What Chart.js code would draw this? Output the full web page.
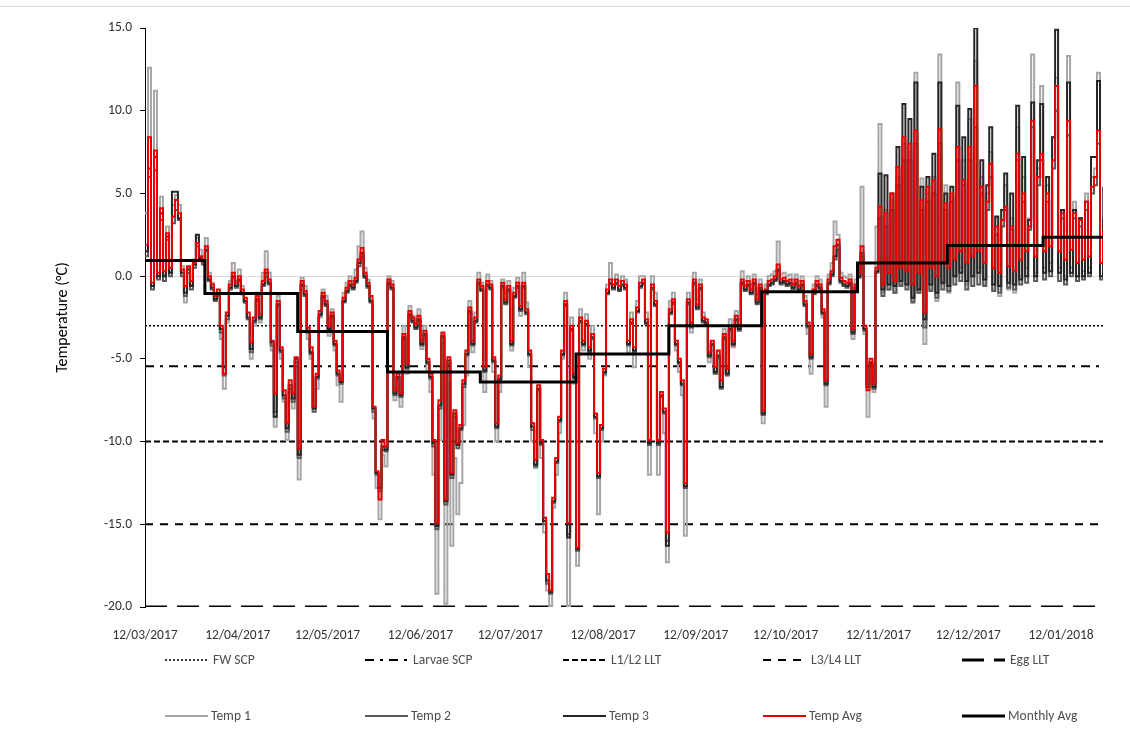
<!DOCTYPE html>
<html>
<head>
<meta charset="utf-8">
<title>Temperature</title>
<script src="https://cdn.jsdelivr.net/npm/chart.js@4.4.1/dist/chart.umd.min.js"></script>
<style>
  html, body { margin: 0; padding: 0; background: #fff; }
  #wrap { position: relative; width: 1130px; height: 740px; overflow: hidden; font-family: Carlito, Lato, sans-serif; }
  #topline { position: absolute; left: 0; top: 6px; width: 1130px; border-top: 1px solid #d9d9d9; }
  #chart { position: absolute; left: 0; top: 0; }
  .lg { position: absolute; height: 16px; font-size: 13.5px; color: #4d4d4d; white-space: nowrap; }
  .lg svg { position: absolute; left: 0; top: 2px; }
  .lg span { position: absolute; top: 0; line-height: 16px; }
</style>
</head>
<body>
<div id="wrap">
  <div id="topline"></div>
  <canvas id="chart" width="1130" height="740"></canvas>
  <div id="legend"></div>
</div>
<script>
// x axis = days since 12/03/2017
var dayMax = 320
var tickLabels = ['12/03/2017', '12/04/2017', '12/05/2017', '12/06/2017', '12/07/2017', '12/08/2017',
  '12/09/2017', '12/10/2017', '12/11/2017', '12/12/2017', '12/01/2018']

// reference thresholds (°C)
var refNames = ['FW SCP', 'Larvae SCP', 'L1/L2 LLT', 'L3/L4 LLT', 'Egg LLT']
var refLevels = [-3.0, -5.45, -10.0, -15.0, -20.0]

// monthly mean, starting day of each step
var monthStartDays = [0, 20, 51, 81, 112, 144, 175, 206, 238, 268, 300]
var monthlyAvg = [0.95, -1.05, -3.35, -5.8, -6.4, -4.7, -3.0, -0.95, 0.8, 1.85, 2.35]

// one reading per day, day 0 .. 320
var temp1 = [
  3.8, 12.6, -0.6, 11.2, 0.0, 4.8, 0.1, 3.0, 0.3, 4.3,
  4.9, 4.3, 0.6, -1.6, 0.5, -0.5, 1.0, 2.3, 1.6, 1.2,
  2.3, 0.2, -0.4, -1.3, -1.0, -3.8, -6.8, -2.8, -0.3, 0.8,
  -0.3, 0.4, -0.6, -1.6, -2.6, -5.0, -3.0, -1.0, -2.8, 0.2,
  1.5, 0.2, -4.5, -9.1, -1.2, -5.0, -7.6, -9.9, -7.0, -8.0,
  -5.5, -12.3, -0.1, -0.6, -3.8, -5.0, -7.9, -6.8, -2.5, -0.8,
  -1.2, -3.6, -2.0, -4.5, -6.6, -7.6, -1.0, -0.4, 0.0, -0.3,
  0.4, 1.8, 2.7, 0.5, -0.2, -1.5, -8.6, -12.8, -14.7, -10.8,
  -11.5, 0.0, -0.3, -7.5, -6.8, -7.9, -3.0, -5.9, -1.8, -2.4,
  -2.6, -2.0, -4.4, -3.0, -5.8, -7.0, -12.0, -19.2, -9.9, -4.0,
  -19.8, -6.5, -16.3, -11.0, -14.4, -12.5, -9.0, -6.0, -1.5, -4.6,
  -2.2, 0.2, -0.4, -7.0, 0.1, -0.3, -5.8, -10.0, -7.0, -0.2,
  -1.0, -0.3, -4.5, -0.7, -0.1, -2.4, 0.2, -1.6, -5.5, -10.0,
  -11.6, -7.0, -11.0, -15.5, -19.0, -20.0, -14.0, -12.0, -9.5, -5.0,
  -1.0, -20.0, -2.5, -6.5, -17.5, -2.0, -4.5, -2.3, -5.0, -3.0,
  -9.5, -14.4, -10.0, -6.0, -0.5, 0.8, -0.2, 0.1, -0.3, 0.0,
  -0.2, -4.6, -2.2, -5.5, -1.5, 0.0, 0.0, -2.2, -12.0, 0.0,
  -1.0, -12.0, -8.0, -9.5, -17.3, -1.5, -1.0, -4.5, -5.8, -7.2,
  -15.7, -1.0, -3.4, 0.2, -1.4, -0.2, -2.2, -3.0, -5.2, -4.5,
  -5.9, -5.0, -6.0, -3.2, -5.9, -2.6, -4.3, -2.1, -2.6, 0.3,
  -0.3, 0.0, -0.5, 0.1, -1.1, -0.2, -8.9, -0.5, 0.0, 0.1,
  0.3, 2.1, 0.1, 0.2, 0.0, 0.1, -0.2, 0.1, -0.3, 0.0,
  -1.2, -3.5, -5.9, -0.5, 0.0, -0.2, -2.5, -7.9, 0.1, 0.8,
  3.3, 2.5, 0.2, 0.0, -0.1, 0.1, -3.8, -0.2, 0.5, 5.4,
  -3.5, -8.5, -5.5, -7.0, 3.0, 9.2, -1.0, 4.0, -0.8, 4.6,
  -1.0, 6.0, -0.5, 8.0, -0.5, 7.5, -1.5, 12.3, -1.0, 5.9,
  -4.1, 5.0, -0.8, 6.0, -1.5, 13.4, -0.5, 5.5, -1.0, 4.8,
  0.0, 11.7, 0.5, 7.0, -0.5, 9.5, 0.0, 13.0, 0.5, 6.0,
  -0.5, 5.0, 7.5, -0.8, 3.5, -1.2, 4.0, 5.5, -0.8, 3.5,
  -1.0, 9.0, 0.0, 6.0, 0.5, 3.5, 13.4, 0.2, 6.5, 11.5,
  0.5, 5.5, 0.8, 8.4, 12.0, 0.5, 4.0, 0.0, 13.3, 0.5,
  4.5, 0.0, 3.5, 0.3, 5.0, 0.5, 6.0, 6.5, 12.3, 0.0, 3.0
]
var temp2 = [
  1.2, 6.0, -0.8, 6.4, -0.2, 3.4, -0.3, 2.2, 0.0, 3.2,
  4.0, 3.4, 0.0, -1.2, 0.2, -0.8, 0.5, 1.8, 1.0, 0.7,
  1.5, -0.3, -0.8, -1.5, -1.2, -3.4, -6.0, -2.6, -0.8, -0.1,
  -0.7, -0.3, -1.1, -1.6, -2.6, -4.6, -2.8, -1.5, -2.6, -0.6,
  0.0, -0.5, -4.2, -8.2, -1.8, -4.6, -7.4, -9.4, -6.8, -7.6,
  -5.2, -11.0, -0.6, -1.2, -3.4, -4.7, -8.2, -6.2, -2.4, -1.3,
  -1.8, -3.3, -2.5, -4.2, -6.0, -6.5, -1.6, -1.0, -0.6, -0.8,
  -0.4, 0.6, 1.2, -0.1, -0.7, -1.6, -8.2, -12.0, -13.0, -10.5,
  -10.6, -0.5, -0.8, -7.2, -6.2, -7.3, -3.8, -5.6, -2.4, -2.8,
  -3.2, -2.7, -4.2, -3.6, -5.3, -6.2, -10.3, -15.3, -8.0, -3.7,
  -13.8, -5.3, -12.2, -8.5, -10.4, -9.3, -6.7, -4.8, -2.2, -4.2,
  -2.8, -0.5, -0.9, -5.8, -0.6, -0.8, -5.2, -9.2, -6.3, -0.7,
  -1.7, -0.9, -4.2, -1.3, -0.7, -2.1, -0.7, -2.3, -4.8, -9.3,
  -11.5, -6.9, -10.2, -15.0, -18.6, -19.2, -13.7, -11.3, -8.8, -4.8,
  -1.8, -15.6, -3.3, -6.2, -16.6, -2.8, -4.2, -3.0, -4.6, -3.8,
  -8.6, -12.2, -9.3, -5.9, -1.1, -0.5, -0.8, -0.5, -0.9, -0.6,
  -0.8, -4.2, -2.9, -4.6, -2.2, -0.7, -0.5, -2.9, -10.2, -0.8,
  -1.8, -10.2, -7.3, -8.3, -16.0, -2.3, -1.7, -4.2, -5.3, -6.6,
  -12.8, -1.7, -3.1, -0.5, -2.0, -0.8, -2.8, -2.9, -4.9, -4.2,
  -5.9, -4.9, -6.8, -3.8, -6.0, -3.3, -4.2, -2.7, -3.3, -0.5,
  -0.9, -0.6, -1.1, -0.5, -1.7, -0.8, -8.4, -1.1, -0.6, -0.5,
  -0.3, 0.3, -0.5, -0.4, -0.6, -0.5, -0.8, -0.5, -0.9, -0.6,
  -1.8, -3.1, -5.0, -1.1, -0.6, -0.8, -2.3, -6.6, -0.5, 0.0,
  1.0, 1.6, -0.4, -0.6, -0.7, -0.5, -3.5, -0.8, -0.1, 1.2,
  -3.3, -6.5, -5.3, -6.8, 0.2, 3.5, -1.2, 3.0, -0.8, 4.0,
  -1.0, 5.5, -0.6, 7.0, -0.8, 7.0, -1.6, 8.0, -1.0, 4.0,
  -3.1, 4.5, -0.9, 5.0, -1.3, 8.0, -0.8, 4.0, -0.9, 4.5,
  -0.5, 7.0, -0.3, 5.5, -0.8, 7.0, -0.6, 9.0, -0.5, 5.0,
  -0.6, 4.0, 6.0, -0.9, 2.5, -1.0, 3.0, 4.0, -0.7, 2.8,
  -0.8, 7.0, -0.5, 4.5, -0.4, 2.8, 9.0, -0.3, 5.5, 7.0,
  -0.2, 4.5, 0.0, 6.5, 10.0, -0.3, 3.5, -0.5, 8.5, 0.0,
  3.5, -0.3, 3.0, -0.2, 4.0, 0.0, 5.0, 5.5, 8.0, -0.2, 5.4
]
var temp3 = [
  1.5, 6.5, -0.6, 7.2, 0.0, 3.8, 0.0, 2.4, 0.2, 5.1,
  5.1, 3.5, 0.2, -1.0, 0.4, -0.6, 0.7, 2.5, 1.1, 0.9,
  1.6, -0.2, -0.7, -1.4, -1.1, -3.2, -5.5, -2.4, -0.7, 0.0,
  -0.6, -0.2, -1.0, -1.5, -2.5, -4.4, -2.7, -1.4, -2.5, -0.5,
  0.2, -0.4, -4.0, -8.5, -1.7, -4.5, -7.2, -9.2, -6.6, -7.4,
  -5.0, -10.8, -0.5, -1.1, -3.3, -4.6, -8.0, -6.1, -2.3, -1.2,
  -1.7, -3.2, -2.4, -4.1, -5.9, -6.4, -1.5, -0.9, -0.5, -0.7,
  -0.3, 0.8, 1.4, 0.0, -0.6, -1.5, -8.0, -11.9, -12.8, -10.3,
  -10.5, -0.4, -0.7, -7.1, -6.1, -7.2, -3.7, -5.5, -2.3, -2.7,
  -3.1, -2.6, -4.1, -3.5, -5.2, -6.1, -10.1, -15.1, -7.8, -3.6,
  -13.6, -5.1, -12.0, -8.3, -10.2, -9.2, -6.5, -4.7, -2.1, -4.1,
  -2.7, -0.4, -0.8, -5.7, -0.5, -0.7, -5.1, -9.1, -6.2, -0.6,
  -1.6, -0.8, -4.1, -1.2, -0.6, -2.0, -0.6, -2.2, -4.7, -9.1,
  -11.4, -6.8, -10.1, -14.8, -18.4, -19.1, -13.6, -11.2, -8.7, -4.7,
  -1.7, -15.8, -3.2, -6.1, -16.5, -2.7, -4.1, -2.9, -4.5, -3.7,
  -8.5, -12.1, -9.2, -5.8, -1.0, -0.4, -0.7, -0.4, -0.8, -0.5,
  -0.7, -4.1, -2.8, -4.5, -2.1, -0.6, -0.4, -2.8, -10.1, -0.7,
  -1.7, -10.1, -7.2, -8.2, -16.3, -2.2, -1.6, -4.1, -5.2, -6.5,
  -12.7, -1.6, -3.0, -0.4, -1.9, -0.7, -2.7, -2.8, -4.8, -4.1,
  -5.8, -4.8, -6.7, -3.7, -5.9, -3.2, -4.1, -2.6, -3.2, -0.4,
  -0.8, -0.5, -1.0, -0.4, -1.6, -0.7, -8.3, -1.0, -0.5, -0.4,
  -0.2, 0.4, -0.4, -0.3, -0.5, -0.4, -0.7, -0.4, -0.8, -0.5,
  -1.7, -3.0, -4.9, -1.0, -0.5, -0.7, -2.2, -6.5, -0.4, 0.1,
  1.2, 1.9, -0.3, -0.5, -0.6, -0.4, -3.4, -0.7, 0.0, 1.4,
  -3.2, -6.7, -5.2, -6.7, 0.3, 6.2, -0.8, 6.1, -0.5, 5.0,
  -0.6, 7.8, -0.3, 10.4, -0.5, 9.5, -1.3, 11.7, -0.8, 5.4,
  -2.6, 6.0, -0.5, 7.4, -1.0, 11.7, -0.4, 5.0, -0.6, 5.4,
  0.0, 10.3, 0.2, 8.4, -0.3, 10.1, 0.0, 15.0, 0.2, 7.0,
  -0.2, 5.5, 9.0, -0.5, 3.6, -0.6, 4.0, 6.2, -0.4, 5.0,
  -0.5, 10.3, -0.2, 7.2, 0.0, 3.4, 10.5, 0.0, 7.0, 10.4,
  0.2, 6.0, 0.3, 8.4, 14.9, 0.2, 4.0, -0.2, 11.7, 0.2,
  4.0, 0.0, 3.5, 0.0, 4.5, 0.2, 7.2, 7.2, 11.8, 0.0, 3.5
]
var tempAvg = [
  1.9, 8.4, -0.4, 7.6, 0.2, 4.1, 0.3, 2.6, 0.5, 3.6,
  4.6, 3.8, 0.4, -0.6, 0.6, -0.3, 0.8, 2.0, 1.2, 1.0,
  1.8, 0.0, -0.5, -1.2, -0.8, -3.0, -5.9, -2.2, -0.5, 0.2,
  -0.4, 0.0, -0.8, -1.3, -2.2, -4.0, -2.5, -1.2, -2.3, -0.3,
  0.4, -0.2, -3.9, -7.1, -1.5, -4.3, -6.9, -8.9, -6.3, -7.1,
  -4.9, -10.4, -0.3, -0.9, -3.1, -4.3, -7.9, -5.9, -2.1, -1.0,
  -1.5, -3.0, -2.2, -3.9, -5.7, -6.3, -1.3, -0.7, -0.3, -0.5,
  -0.1, 1.0, 1.7, 0.2, -0.4, -1.2, -7.9, -11.8, -13.5, -9.9,
  -10.3, -0.2, -0.5, -6.9, -5.9, -7.1, -3.5, -5.3, -2.1, -2.5,
  -2.9, -2.4, -3.9, -3.3, -5.0, -5.9, -9.9, -14.9, -7.5, -3.4,
  -13.5, -4.9, -11.9, -8.1, -10.1, -9.0, -6.3, -4.5, -1.9, -3.9,
  -2.5, -0.2, -0.6, -5.5, -0.3, -0.5, -4.9, -8.9, -6.0, -0.4,
  -1.4, -0.6, -3.9, -1.0, -0.4, -1.8, -0.4, -2.0, -4.5, -8.9,
  -11.1, -6.6, -9.9, -14.6, -18.0, -19.0, -13.4, -11.0, -8.5, -4.5,
  -1.5, -14.9, -3.0, -5.9, -16.4, -2.5, -3.9, -2.7, -4.3, -3.5,
  -8.3, -11.9, -9.0, -5.6, -0.8, -0.2, -0.5, -0.2, -0.6, -0.3,
  -0.5, -3.9, -2.6, -4.3, -1.9, -0.4, -0.2, -2.6, -9.9, -0.5,
  -1.5, -9.9, -7.0, -8.0, -15.5, -2.0, -1.4, -3.9, -5.0, -6.3,
  -12.5, -1.4, -2.8, -0.2, -1.7, -0.5, -2.5, -2.6, -4.6, -3.9,
  -5.5, -4.5, -6.3, -3.5, -5.6, -3.0, -3.9, -2.4, -3.0, -0.2,
  -0.6, -0.3, -0.8, -0.2, -1.4, -0.5, -8.1, -0.8, -0.3, -0.2,
  0.0, 0.7, -0.2, -0.1, -0.3, -0.2, -0.5, -0.2, -0.6, -0.3,
  -1.5, -2.8, -4.7, -0.8, -0.3, -0.5, -2.0, -6.3, -0.2, 0.3,
  1.8, 2.2, -0.1, -0.3, -0.4, -0.2, -3.2, -0.5, 0.2, 1.8,
  -3.0, -6.9, -5.0, -6.5, 0.5, 4.2, -0.5, 3.8, 0.2, 5.0,
  -0.3, 6.6, 0.5, 8.4, 0.3, 8.0, -0.5, 8.8, 0.2, 4.6,
  -2.2, 5.4, 0.5, 5.8, 0.0, 8.9, 0.8, 4.4, 0.5, 5.0,
  1.0, 7.8, 1.5, 5.8, 0.8, 7.8, 1.2, 11.5, 1.5, 5.4,
  0.8, 4.5, 6.8, 0.5, 3.0, 0.2, 3.4, 4.2, 0.6, 3.0,
  0.3, 7.4, 1.0, 5.0, 1.5, 3.0, 9.4, 1.2, 6.0, 7.4,
  1.5, 5.0, 1.8, 7.0, 11.5, 1.5, 3.8, 1.0, 9.4, 1.6,
  3.8, 0.8, 3.4, 1.0, 4.5, 1.2, 5.4, 6.0, 8.8, 0.8, 2.8
]

var fontFamily = 'Carlito, Lato, sans-serif'

// day offset of each tick label from the first date
function dayOf(label) {
  var p = label.split('/')
  var t0 = Date.UTC(2017, 2, 12)
  return Math.round((Date.UTC(+p[2], +p[1] - 1, +p[0]) - t0) / 86400000)
}
var tickDays = tickLabels.map(dayOf)

function daily(arr) {
  return arr.map(function (v, d) { return { x: d, y: v } })
}

function monthlySteps() {
  var pts = monthStartDays.map(function (d, i) { return { x: d, y: monthlyAvg[i] } })
  pts.push({ x: dayMax, y: monthlyAvg[monthlyAvg.length - 1] })
  return pts
}

var refStyles = [
  { dash: [2, 2], width: 1.5 },
  { dash: [9, 6, 3, 6], width: 2 },
  { dash: [6, 3], width: 2 },
  { dash: [8, 7], width: 2 },
  { dash: [22, 10], width: 3 }
]

var datasets = []
refNames.forEach(function (name, i) {
  datasets.push({
    label: name,
    data: [{ x: 0, y: refLevels[i] }, { x: dayMax, y: refLevels[i] }],
    borderColor: '#000',
    borderWidth: refStyles[i].width,
    borderDash: refStyles[i].dash,
    order: 9
  })
})
// daily readings are drawn as steps, like the logger export
datasets.push({ label: 'Temp 1', data: daily(temp1), borderColor: '#a6a6a6', borderWidth: 2, stepped: true, order: 4 })
datasets.push({ label: 'Temp 2', data: daily(temp2), borderColor: '#595959', borderWidth: 2, stepped: true, order: 3 })
datasets.push({ label: 'Temp 3', data: daily(temp3), borderColor: '#262626', borderWidth: 2, stepped: true, order: 2 })
datasets.push({ label: 'Temp Avg', data: daily(tempAvg), borderColor: '#e80000', borderWidth: 2, stepped: true, order: 1 })
datasets.push({ label: 'Monthly Avg', data: monthlySteps(), borderColor: '#000', borderWidth: 3, stepped: true, order: 0 })

var chart = new Chart(document.getElementById('chart'), {
  type: 'line',
  data: { datasets: datasets },
  options: {
    responsive: false,
    animation: false,
    layout: { padding: { left: 0, right: 27, top: 28, bottom: 93 } },
    elements: { point: { radius: 0 }, line: { tension: 0 } },
    plugins: { legend: { display: false }, tooltip: { enabled: false } },
    scales: {
      x: {
        type: 'linear',
        min: 0,
        max: dayMax,
        grid: { display: false },
        border: { display: false },
        afterBuildTicks: function (s) {
          s.ticks = tickDays.map(function (d) { return { value: d } })
        },
        afterFit: function (s) {
          s.height = 40
          s.paddingLeft = 0
          s.paddingRight = 0
        },
        ticks: {
          autoSkip: false,
          maxRotation: 0,
          padding: 13,
          color: '#333',
          font: { family: fontFamily, size: 13.5 },
          callback: function (v) {
            var i = tickDays.indexOf(v)
            return i < 0 ? '' : tickLabels[i]
          }
        }
      },
      y: {
        min: -20,
        max: 15,
        afterFit: function (s) { s.width = 145 },
        border: { display: true, color: '#000', width: 1 },
        grid: {
          color: function (c) { return c.tick && c.tick.value === 0 ? '#d9d9d9' : 'rgba(0,0,0,0)' },
          tickColor: '#000',
          tickLength: 5
        },
        ticks: {
          stepSize: 5,
          padding: 8,
          color: '#333',
          font: { family: fontFamily, size: 13.5 },
          callback: function (v) { return v.toFixed(1) }
        },
        title: {
          display: true,
          text: 'Temperature (°C)',
          color: '#000',
          padding: { top: 53, bottom: 0 },
          font: { family: fontFamily, size: 16 }
        }
      }
    }
  }
})

// legend: two rows of five below the plot
var legendCols = [165, 365, 563, 763, 962]
var legendRows = [652, 708]
var legendBox = document.getElementById('legend')
datasets.forEach(function (ds, i) {
  var row = i < 5 ? 0 : 1
  var col = i % 5
  var item = document.createElement('div')
  item.className = 'lg'
  item.style.left = legendCols[col] + 'px'
  item.style.top = legendRows[row] + 'px'
  var dash = ds.borderDash ? ds.borderDash.join(' ') : 'none'
  item.innerHTML = '<svg width="43" height="12"><line x1="0" y1="6" x2="43" y2="6" stroke="' + ds.borderColor +
    '" stroke-width="' + ds.borderWidth + '" stroke-dasharray="' + dash + '"/></svg>' +
    '<span style="left:' + (row === 0 ? 48 : 46) + 'px">' + ds.label + '</span>'
  legendBox.appendChild(item)
})
</script>
</body>
</html>
